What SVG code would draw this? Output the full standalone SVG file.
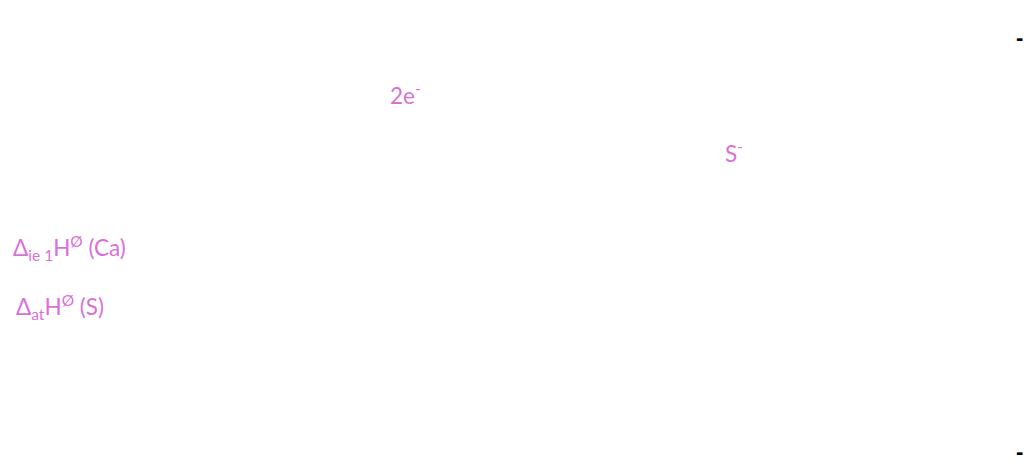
<svg xmlns="http://www.w3.org/2000/svg" width="1024" height="464" viewBox="0 0 1024 464">
<style>
.t{font-family:Lato,"Noto Sans",sans-serif;font-size:22.5px;fill:#da70d6}
.s{font-size:15.5px}
.d{font-family:"Liberation Sans",sans-serif;font-size:22px;font-weight:bold;fill:#000}
</style>
<rect width="1024" height="464" fill="#fff"/>
<g id="label-2e"><text class="t" x="390" y="104">2e<tspan class="s" dy="-10">-</tspan></text></g>
<g id="label-S"><text class="t" x="725" y="162">S<tspan class="s" dy="-10">-</tspan></text></g>
<g id="label-ie1"><text class="t" x="13" y="256">Δ<tspan class="s" dy="5">ie 1</tspan><tspan dy="-5">H</tspan><tspan class="s" dy="-9">Ø</tspan><tspan dy="9"> (Ca)</tspan></text></g>
<g id="label-at"><text class="t" x="16" y="315">Δ<tspan class="s" dy="5">at</tspan><tspan dy="-5">H</tspan><tspan class="s" dy="-9">Ø</tspan><tspan dy="9"> (S)</tspan></text></g>
<g id="connectors"></g>
<g id="marks"><text class="d" x="1016" y="45">-</text><text class="d" x="1016" y="459">-</text></g>
</svg>
